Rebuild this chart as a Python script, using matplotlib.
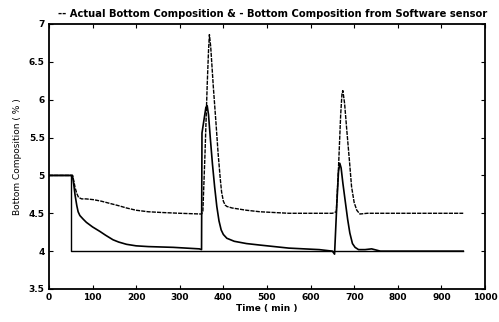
import numpy as np
import matplotlib
matplotlib.use('Agg')
import matplotlib.pyplot as plt

plt.rcParams['font.family'] = ['DejaVu Sans']

# actual bottom composition (dashed)
t_actual = [0, 54, 57, 60, 64, 68, 75, 85, 102, 120, 140, 160, 178, 200, 228,
            260, 300, 350, 353, 358, 363, 366, 368, 371, 377, 383, 388, 393,
            396, 400, 404, 408, 420, 453, 484, 550, 650, 659, 664, 669, 672,
            674, 678, 683, 689, 694, 700, 706, 713, 730, 950]
x_actual = [5.0, 5.0, 4.93, 4.84, 4.76, 4.71, 4.69, 4.69, 4.68, 4.66, 4.63,
            4.60, 4.57, 4.54, 4.52, 4.51, 4.5, 4.49, 4.52, 5.3, 6.2, 6.65,
            6.86, 6.7, 6.17, 5.7, 5.29, 4.95, 4.78, 4.66, 4.61, 4.59, 4.57,
            4.54, 4.52, 4.5, 4.5, 4.52, 5.1, 5.8, 6.08, 6.12, 5.95, 5.6, 5.2,
            4.85, 4.64, 4.54, 4.49, 4.5, 4.5]

# software sensor estimate (solid)
t_sensor = [0, 54, 57, 60, 64, 67, 71, 79, 86, 100, 117, 130, 147, 160, 178,
            200, 228, 285, 345, 350, 351, 356, 360, 363, 366, 370, 375, 380,
            385, 390, 395, 400, 408, 425, 453, 484, 550, 620, 650, 655, 660,
            664, 667, 670, 674, 679, 685, 690, 696, 702, 710, 725, 740, 760,
            950]
x_sensor = [5.0, 5.0, 4.88, 4.74, 4.6, 4.52, 4.47, 4.42, 4.38, 4.32, 4.26,
            4.21, 4.15, 4.12, 4.09, 4.07, 4.06, 4.05, 4.03, 4.02, 5.56, 5.75,
            5.9, 5.92, 5.8, 5.5, 5.15, 4.85, 4.59, 4.4, 4.28, 4.22, 4.17,
            4.13, 4.10, 4.08, 4.04, 4.02, 4.0, 3.96, 4.6, 5.05, 5.16, 5.1,
            4.9, 4.68, 4.42, 4.24, 4.1, 4.05, 4.02, 4.02, 4.03, 4.0, 4.0]

# setpoint
t_sp = [0, 50, 50, 950]
x_sp = [5.0, 5.0, 4.0, 4.0]

fig = plt.figure(figsize=(4.99, 3.22), dpi=100)
ax = fig.add_axes([0.098, 0.1025, 0.874, 0.823])

ax.plot(t_sp, x_sp, color='black', lw=1.0)
ax.plot(t_sensor, x_sensor, color='black', lw=1.2)
ax.plot(t_actual, x_actual, color='black', lw=1.0, linestyle=(0, (3, 0.8)))

ax.set_xlim(0, 1000)
ax.set_ylim(3.5, 7)
ax.set_xticks(np.arange(0, 1001, 100))
ax.set_yticks(np.arange(3.5, 7.01, 0.5))
ax.set_yticklabels(['3.5', '4', '4.5', '5', '5.5', '6', '6.5', '7'])

ax.tick_params(direction='in', top=True, right=True, length=3, width=0.8,
               labelsize=6.5, pad=3)
for lab in ax.get_xticklabels() + ax.get_yticklabels():
    lab.set_fontweight('bold')
for sp in ax.spines.values():
    sp.set_linewidth(1.3)

ax.set_xlabel('Time ( min )', fontsize=6.5, fontweight='bold', labelpad=1)
ax.set_ylabel('Bottom Composition ( % )', fontsize=6.5, labelpad=5)
ax.set_title('-- Actual Bottom Composition & - Bottom Composition from Software sensor',
             fontsize=7.2, fontweight='bold', pad=5, x=0.514)

fig.savefig('out.png', dpi=100)
